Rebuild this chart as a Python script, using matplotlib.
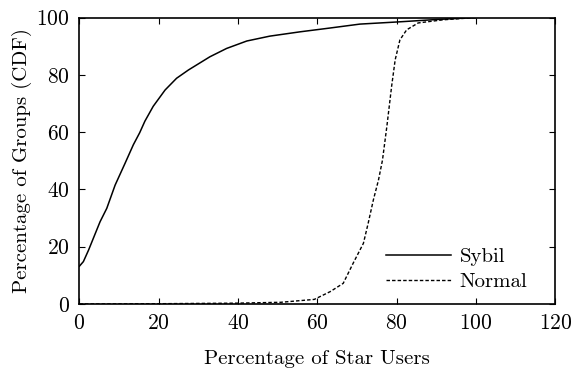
import matplotlib
matplotlib.use("Agg")
import matplotlib.pyplot as plt

sybil_x = [0, 1.0, 2.3, 3.5, 5.2, 6.9, 9.0, 11.5, 13.6, 15.2, 16.5, 18.6, 21.6, 24.5,
           27.5, 32.9, 37.1, 42.2, 48.0, 55.6, 63.0, 70.7, 80.8, 90.0, 100]
sybil_y = [13.2, 14.8, 18.8, 22.9, 28.7, 33.4, 41.5, 49.1, 55.6, 59.8, 63.8, 69.0, 74.7, 78.8,
           81.7, 86.3, 89.2, 91.8, 93.5, 95.0, 96.3, 97.7, 98.5, 99.3, 100]

normal_x = [0, 20, 40, 50.8, 59.2, 63.2, 66.5, 69.0, 71.6, 72.8, 74.1, 75.4, 76.4,
            77.5, 78.7, 79.6, 80.8, 82.5, 85.4, 91.7, 100]
normal_y = [0, 0.1, 0.3, 0.6, 1.6, 4.3, 7.2, 14.2, 21.2, 28.2, 36.3, 43.3, 50.2,
            61.9, 75.9, 85.2, 92.2, 95.7, 98.1, 99.2, 100]

x_ticks = [0, 20, 40, 60, 80, 100, 120]
y_ticks = [0, 20, 40, 60, 80, 100]

plt.rcParams['font.family'] = ['cmr10', 'DejaVu Serif']
plt.rcParams['axes.formatter.use_mathtext'] = True
plt.rcParams['mathtext.fontset'] = 'cm'

fig = plt.figure(figsize=(5.73, 3.71), dpi=100)
ax = fig.add_axes([0.1386, 0.1806, 0.8307, 0.7722])

ax.plot(sybil_x, sybil_y, color='black', lw=1.1, ls='-', label='Sybil')
ax.plot(normal_x, normal_y, color='black', lw=1.0, ls=(0, (2.5, 1.5)), label='Normal')

ax.set_xlim(0, 120)
ax.set_ylim(0, 100)
ax.set_xticks(x_ticks)
ax.set_yticks(y_ticks)
ax.tick_params(direction='in', top=True, right=True, length=4, width=0.8,
               labelsize=15.5, pad=7)
for s in ax.spines.values():
    s.set_linewidth(1.2)

ax.set_xlabel('Percentage of Star Users', fontsize=15, labelpad=12)
ax.set_ylabel('Percentage of Groups (CDF)', fontsize=15, labelpad=3)

leg = ax.legend(loc='lower right', frameon=False, fontsize=15, handlelength=3.1,
                handletextpad=0.4, labelspacing=0.3, bbox_to_anchor=(0.98, -0.02))

fig.savefig('out.png', dpi=100)
